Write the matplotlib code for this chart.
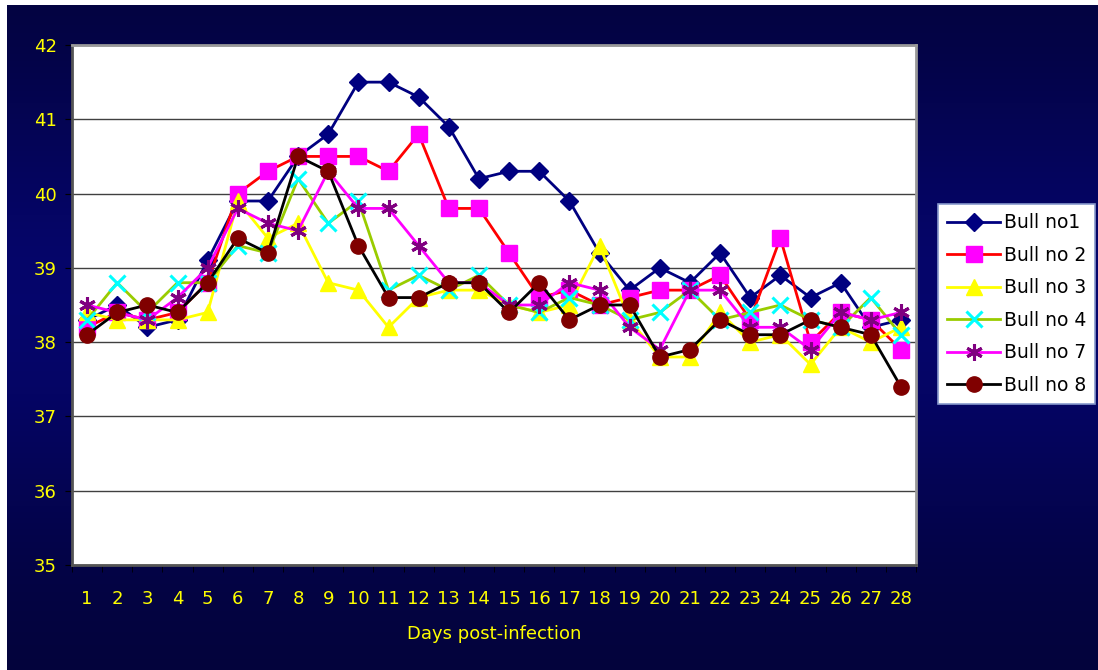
import numpy as np
import matplotlib
matplotlib.use('Agg')
import matplotlib.pyplot as plt

days = list(range(1, 29))
labels = ['Bull no1', 'Bull no 2', 'Bull no 3', 'Bull no 4', 'Bull no 7', 'Bull no 8']

bull1 = [38.3, 38.5, 38.2, 38.3, 39.1, 39.9, 39.9, 40.5, 40.8, 41.5, 41.5, 41.3, 40.9, 40.2,
         40.3, 40.3, 39.9, 39.2, 38.7, 39.0, 38.8, 39.2, 38.6, 38.9, 38.6, 38.8, 38.2, 38.3]
bull2 = [38.2, 38.4, 38.3, 38.4, 38.8, 40.0, 40.3, 40.5, 40.5, 40.5, 40.3, 40.8, 39.8, 39.8,
         39.2, 38.6, 38.7, 38.5, 38.6, 38.7, 38.7, 38.9, 38.3, 39.4, 38.0, 38.4, 38.3, 37.9]
bull3 = [38.4, 38.3, 38.3, 38.3, 38.4, 39.9, 39.4, 39.6, 38.8, 38.7, 38.2, 38.6, 38.7, 38.7,
         38.5, 38.4, 38.5, 39.3, 38.3, 37.8, 37.8, 38.4, 38.0, 38.1, 37.7, 38.2, 38.0, 38.2]
bull4 = [38.3, 38.8, 38.4, 38.8, 38.8, 39.3, 39.2, 40.2, 39.6, 39.9, 38.7, 38.9, 38.7, 38.9,
         38.5, 38.4, 38.6, 38.5, 38.3, 38.4, 38.7, 38.3, 38.4, 38.5, 38.3, 38.2, 38.6, 38.1]
bull7 = [38.5, 38.4, 38.3, 38.6, 39.0, 39.8, 39.6, 39.5, 40.3, 39.8, 39.8, 39.3, 38.8, 38.8,
         38.5, 38.5, 38.8, 38.7, 38.2, 37.9, 38.7, 38.7, 38.2, 38.2, 37.9, 38.4, 38.3, 38.4]
bull8 = [38.1, 38.4, 38.5, 38.4, 38.8, 39.4, 39.2, 40.5, 40.3, 39.3, 38.6, 38.6, 38.8, 38.8,
         38.4, 38.8, 38.3, 38.5, 38.5, 37.8, 37.9, 38.3, 38.1, 38.1, 38.3, 38.2, 38.1, 37.4]

series = [bull1, bull2, bull3, bull4, bull7, bull8]
# (line colour, marker, marker colour, marker size)
styles = [
    ('#000080', 'D', '#000080', 9),
    ('#FF0000', 's', '#FF00FF', 11),
    ('#FFFF00', '^', '#FFFF00', 11),
    ('#99CC00', 'x', '#00FFFF', 11),
    ('#FF00FF', (6, 2, 0), '#800080', 12),
    ('#000000', 'o', '#800000', 11),
]

fig = plt.figure(figsize=(10.98, 6.70), dpi=100, facecolor='white')

# dark blue gradient background (small white strip top/left like the source)
bg = fig.add_axes([7 / 1098, 0, 1 - 7 / 1098, 1 - 5 / 670])
grad = np.linspace(0, 1, 256)
col = 0.22 + 0.20 * np.exp(-((grad - 0.45) / 0.35) ** 2)
img = np.zeros((256, 2, 3))
img[:, :, 2] = col[:, None]
img[:, :, 0] = col[:, None] * 0.05
img[:, :, 1] = col[:, None] * 0.05
bg.imshow(img, aspect='auto', extent=[0, 1, 0, 1], interpolation='bilinear')
bg.set_axis_off()

ax = fig.add_axes([72 / 1098, 1 - 565 / 670, (916 - 72) / 1098, (565 - 45) / 670])
ax.set_facecolor('white')

for vals, lab, (lc, mk, mc, ms) in zip(series, labels, styles):
    if mk == 'x' or isinstance(mk, tuple):
        ax.plot(days, vals, color=lc, lw=2, marker=mk, markersize=ms,
                markeredgecolor=mc, markeredgewidth=2.2, label=lab, zorder=3)
    else:
        ax.plot(days, vals, color=lc, lw=2, marker=mk, markersize=ms,
                markerfacecolor=mc, markeredgecolor=mc, label=lab, zorder=3)

ax.set_xlim(0.5, 28.5)
ax.set_ylim(35, 42)
ax.set_yticks(range(35, 43))
ax.yaxis.grid(True, color='#404040', lw=1)
ax.set_axisbelow(True)
ax.set_xticks(days)
ax.set_xticklabels([str(d) for d in days])
ax.set_xticks(np.arange(0.5, 29, 1), minor=True)
ax.tick_params(axis='x', which='major', length=0, pad=18, colors='#FFFF00', labelsize=13)
ax.tick_params(axis='x', which='minor', length=5, direction='out', color='black')
ax.tick_params(axis='y', length=5, direction='out', color='black', colors='#FFFF00',
               labelsize=13, pad=6)
for s in ['top', 'right']:
    ax.spines[s].set_color('#999999')
    ax.spines[s].set_linewidth(2)
for s in ['left', 'bottom']:
    ax.spines[s].set_color('#555555')
    ax.spines[s].set_linewidth(2)

ax.set_xlabel('Days post-infection', color='#FFFF00', fontsize=13, labelpad=12)

leg = ax.legend(loc='center left', bbox_to_anchor=(938 / 1098, 1 - 304 / 670),
                bbox_transform=fig.transFigure, frameon=True, fancybox=False,
                framealpha=1, facecolor='white',
                fontsize=13.5, handlelength=2.8, handletextpad=0.2, labelspacing=0.72,
                borderpad=0.5, numpoints=1, borderaxespad=0)
leg.get_frame().set_edgecolor('#8899cc')
leg.get_frame().set_linewidth(1.2)

fig.savefig('out.png', dpi=100, facecolor=fig.get_facecolor())
